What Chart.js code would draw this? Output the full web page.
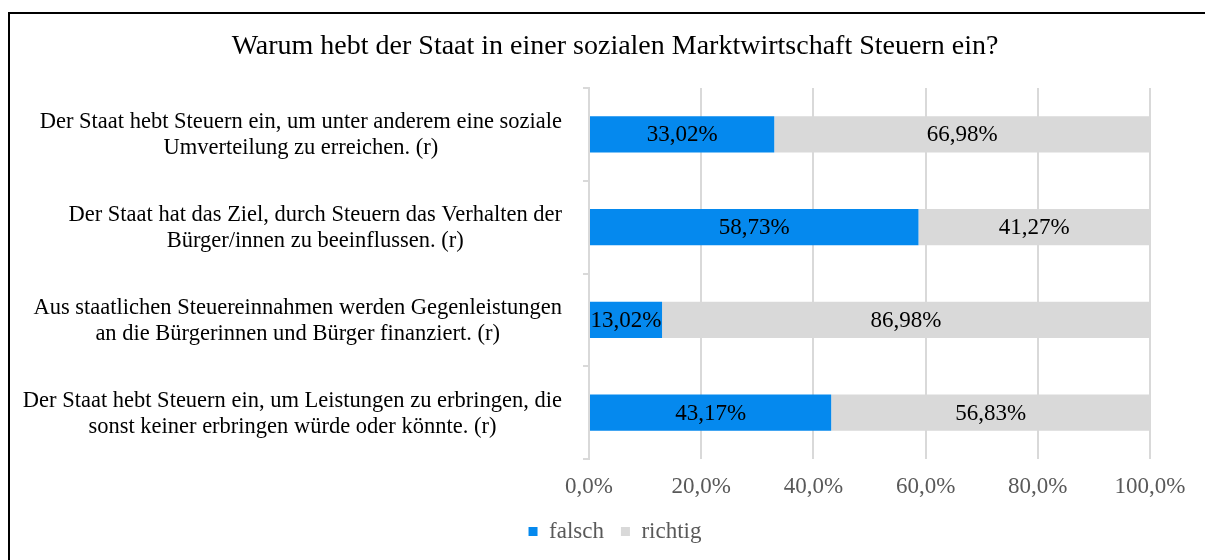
<!DOCTYPE html>
<html>
<head>
<meta charset="utf-8">
<script src="https://cdn.jsdelivr.net/npm/chart.js@4"></script>
<style>
  html, body { margin: 0; padding: 0; background: #fff; overflow: hidden; }
  #frame { position: absolute; left: 8px; top: 12px; width: 1260px; height: 620px;
           border-left: 2px solid #000; border-top: 2px solid #000; }
  #wrap { position: absolute; left: 0; top: 0; width: 1205px; height: 560px; }
</style>
</head>
<body>
<div id="frame"></div>
<div id="wrap"><canvas id="chart"></canvas></div>
<script>
// Kategorien (je zwei Zeilen)
const categories = [
  ['Der Staat hebt Steuern ein, um unter anderem eine soziale', 'Umverteilung zu erreichen. (r)'],
  ['Der Staat hat das Ziel, durch Steuern das Verhalten der', 'Bürger/innen zu beeinflussen. (r)'],
  ['Aus staatlichen Steuereinnahmen werden Gegenleistungen', 'an die Bürgerinnen und Bürger finanziert. (r)'],
  ['Der Staat hebt Steuern ein, um Leistungen zu erbringen, die', 'sonst keiner erbringen würde oder könnte. (r)']
];
const falsch = [33.02, 58.73, 13.02, 43.17];
const richtig = [66.98, 41.27, 86.98, 56.83];
const xTicks = [0, 20, 40, 60, 80, 100];

const SERIF = "'Liberation Serif', 'Times New Roman', serif";
const pct = (v, d) => v.toFixed(d).replace('.', ',') + '%';

// Werte mittig in die Balken schreiben
const barLabels = {
  id: 'barLabels',
  afterDatasetsDraw(chart) {
    const ctx = chart.ctx;
    ctx.save();
    ctx.font = '23px ' + SERIF;
    ctx.fillStyle = '#000';
    ctx.textAlign = 'center';
    ctx.textBaseline = 'middle';
    chart.data.datasets.forEach((ds, di) => {
      chart.getDatasetMeta(di).data.forEach((el, i) => {
        ctx.fillText(pct(ds.data[i], 2), (el.x + el.base) / 2, el.y + 1);
      });
    });
    ctx.restore();
  }
};

// Kategorienbeschriftung: Block rechtsbündig, Zeilen zentriert
const catLabels = {
  id: 'catLabels',
  afterDraw(chart) {
    const ctx = chart.ctx;
    const y = chart.scales.y;
    const right = y.right - 27;
    const lh = 26;
    ctx.save();
    ctx.font = '22.5px ' + SERIF;
    ctx.fillStyle = '#000';
    ctx.textAlign = 'center';
    ctx.textBaseline = 'middle';
    categories.forEach((lines, i) => {
      const w = Math.max(...lines.map(l => ctx.measureText(l).width));
      const cx = right - w / 2;
      const cy = y.getPixelForTick(i);
      lines.forEach((l, k) => {
        ctx.fillText(l, cx, cy + (k - (lines.length - 1) / 2) * lh + 1);
      });
    });
    ctx.restore();
  }
};

new Chart(document.getElementById('chart'), {
  type: 'bar',
  data: {
    labels: categories,
    datasets: [
      { label: 'falsch', data: falsch, backgroundColor: '#0589EE', barPercentage: 0.39, categoryPercentage: 1 },
      { label: 'richtig', data: richtig, backgroundColor: '#D9D9D9', barPercentage: 0.39, categoryPercentage: 1 }
    ]
  },
  options: {
    indexAxis: 'y',
    responsive: true,
    maintainAspectRatio: false,
    animation: false,
    layout: { padding: { left: 25, right: 0, top: 0, bottom: 7 } },
    plugins: {
      title: {
        display: true,
        text: 'Warum hebt der Staat in einer sozialen Marktwirtschaft Steuern ein?',
        color: '#000',
        font: { family: SERIF, size: 28, weight: 'normal' },
        padding: { top: 30, bottom: 24.4 }
      },
      legend: {
        position: 'bottom',
        labels: {
          color: '#595959',
          font: { family: SERIF, size: 23 },
          boxWidth: 9,
          boxHeight: 9,
          padding: 17
        }
      },
      tooltip: { enabled: false }
    },
    scales: {
      x: {
        stacked: true,
        min: 0,
        max: 100,
        afterBuildTicks(s) { s.ticks = xTicks.map(v => ({ value: v })); },
        ticks: {
          color: '#595959',
          font: { family: SERIF, size: 23 },
          padding: 14,
          callback: v => pct(v, 1)
        },
        grid: { color: '#D9D9D9', lineWidth: 2, drawTicks: false },
        border: { display: false },
        afterFit(s) { s.height = 44; }
      },
      y: {
        stacked: true,
        ticks: { display: false },
        grid: { drawOnChartArea: false, color: '#D9D9D9', lineWidth: 2, tickLength: 6 },
        border: { color: '#D9D9D9', width: 2 },
        afterFit(s) { s.width = 564; }
      },
      yRight: {
        position: 'right',
        ticks: { display: false },
        grid: { display: false },
        border: { display: false },
        afterFit(s) { s.width = 55; }
      }
    }
  },
  plugins: [barLabels, catLabels]
});
</script>
</body>
</html>
